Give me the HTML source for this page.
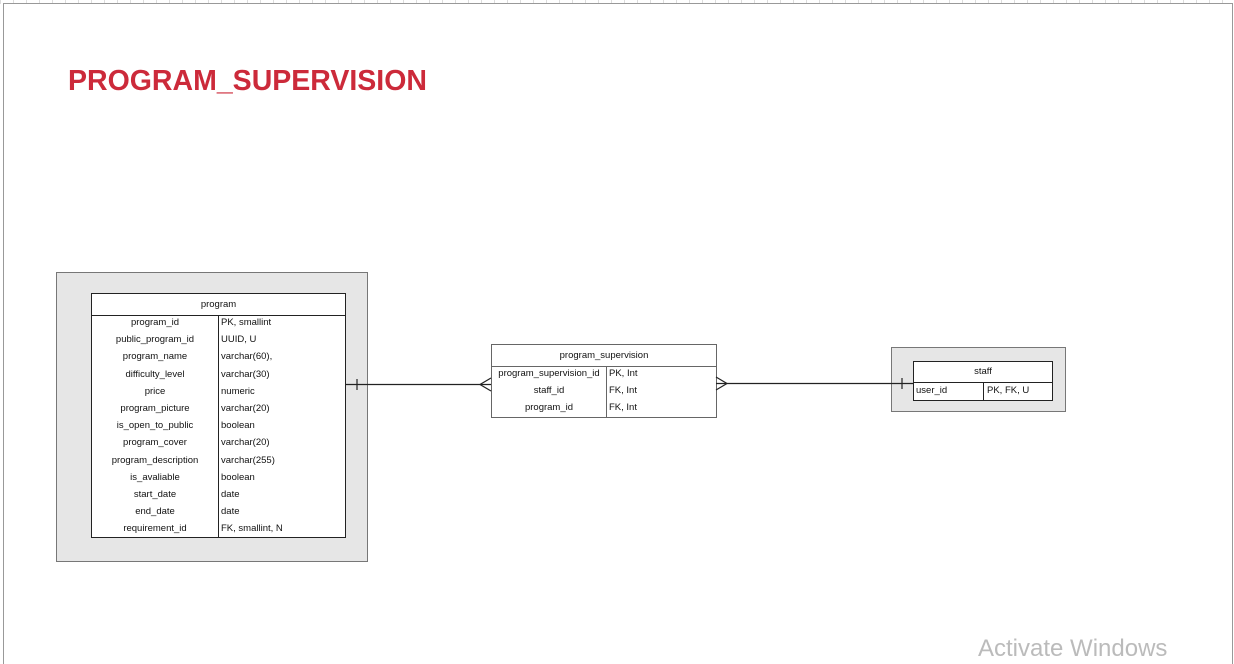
<!DOCTYPE html>
<html><head><meta charset="utf-8"><style>
body{margin:0;width:1234px;height:656px;overflow:hidden;background:#fff;font-family:"Liberation Sans",Arial,sans-serif;position:relative}
.a{position:absolute}
.box{position:absolute;background:#e6e6e6;border:1px solid #777}
.t{position:absolute;background:#fff;border:1px solid #222;font-size:9.5px;color:#111}
.h{position:absolute;left:0;right:0;top:0;border-bottom:1px solid #222;text-align:center}
.r{position:absolute;left:0;right:0;height:17px;line-height:17px}
.r .k{position:absolute;left:0;text-align:center}
.r .v{position:absolute;left:0;padding-left:2px}
.d{position:absolute;top:0;bottom:0;width:0;border-left:1px solid #222}
</style></head><body>
<div class="a" style="left:0;top:0;width:1234px;height:4px;background:repeating-linear-gradient(90deg,#ddd 0 1px,#fff 1px 13px)"></div>
<div class="a" style="left:3px;top:3px;width:1228px;height:660px;border:1px solid #999;border-bottom:none"></div>
<div class="a" style="left:68px;top:65px;font-size:28.5px;font-weight:bold;color:#cc2a3a">PROGRAM_SUPERVISION</div>

<div class="box" style="left:56px;top:272px;width:310px;height:288px"></div>
<div class="t" style="left:91px;top:293px;width:253px;height:243px">
<div class="h" style="height:21px;line-height:21px">program</div>
<div class="d" style="left:126px;top:22px"></div>
<div style="position:absolute;left:0;right:0;top:20px">
<div class="r" style="top:0"><span class="k" style="width:126px">program_id</span><span class="v" style="left:127px">PK, smallint</span></div>
<div class="r" style="top:17.2px"><span class="k" style="width:126px">public_program_id</span><span class="v" style="left:127px">UUID, U</span></div>
<div class="r" style="top:34.4px"><span class="k" style="width:126px">program_name</span><span class="v" style="left:127px">varchar(60),</span></div>
<div class="r" style="top:51.6px"><span class="k" style="width:126px">difficulty_level</span><span class="v" style="left:127px">varchar(30)</span></div>
<div class="r" style="top:68.8px"><span class="k" style="width:126px">price</span><span class="v" style="left:127px">numeric</span></div>
<div class="r" style="top:86px"><span class="k" style="width:126px">program_picture</span><span class="v" style="left:127px">varchar(20)</span></div>
<div class="r" style="top:103.2px"><span class="k" style="width:126px">is_open_to_public</span><span class="v" style="left:127px">boolean</span></div>
<div class="r" style="top:120.4px"><span class="k" style="width:126px">program_cover</span><span class="v" style="left:127px">varchar(20)</span></div>
<div class="r" style="top:137.6px"><span class="k" style="width:126px">program_description</span><span class="v" style="left:127px">varchar(255)</span></div>
<div class="r" style="top:154.8px"><span class="k" style="width:126px">is_avaliable</span><span class="v" style="left:127px">boolean</span></div>
<div class="r" style="top:172px"><span class="k" style="width:126px">start_date</span><span class="v" style="left:127px">date</span></div>
<div class="r" style="top:189.2px"><span class="k" style="width:126px">end_date</span><span class="v" style="left:127px">date</span></div>
<div class="r" style="top:206.4px"><span class="k" style="width:126px">requirement_id</span><span class="v" style="left:127px">FK, smallint, N</span></div>
</div></div>

<div class="t" style="left:491px;top:344px;width:224px;height:72px;border-color:#666">
<div class="h" style="height:21px;line-height:21px;border-color:#666">program_supervision</div>
<div class="d" style="left:114px;top:22px;border-color:#666"></div>
<div style="position:absolute;left:0;right:0;top:20px">
<div class="r" style="top:0"><span class="k" style="width:114px">program_supervision_id</span><span class="v" style="left:115px">PK, Int</span></div>
<div class="r" style="top:17px"><span class="k" style="width:114px">staff_id</span><span class="v" style="left:115px">FK, Int</span></div>
<div class="r" style="top:34px"><span class="k" style="width:114px">program_id</span><span class="v" style="left:115px">FK, Int</span></div>
</div></div>

<div class="box" style="left:891px;top:347px;width:173px;height:63px"></div>
<div class="t" style="left:913px;top:361px;width:138px;height:38px">
<div class="h" style="height:20px;line-height:20px">staff</div>
<div class="d" style="left:69px;top:21px"></div>
<div class="r" style="top:20px"><span class="v" style="left:0">user_id</span><span class="v" style="left:71px">PK, FK, U</span></div>
</div>

<svg class="a" style="left:0;top:0" width="1234" height="656">
<g stroke="#222" stroke-width="1.2" fill="none">
<line x1="346" y1="384.5" x2="491" y2="384.5"/>
<line x1="357" y1="379" x2="357" y2="390"/>
<polyline points="491,378 480,384.5 491,391"/>
<line x1="716" y1="383.5" x2="913" y2="383.5"/>
<polyline points="716,377 727,383.5 716,390"/>
<line x1="902" y1="378" x2="902" y2="389"/>
</g>
</svg>
<div class="a" style="left:978px;top:635px;font-size:24px;color:#bbb">Activate Windows</div>
</body></html>
